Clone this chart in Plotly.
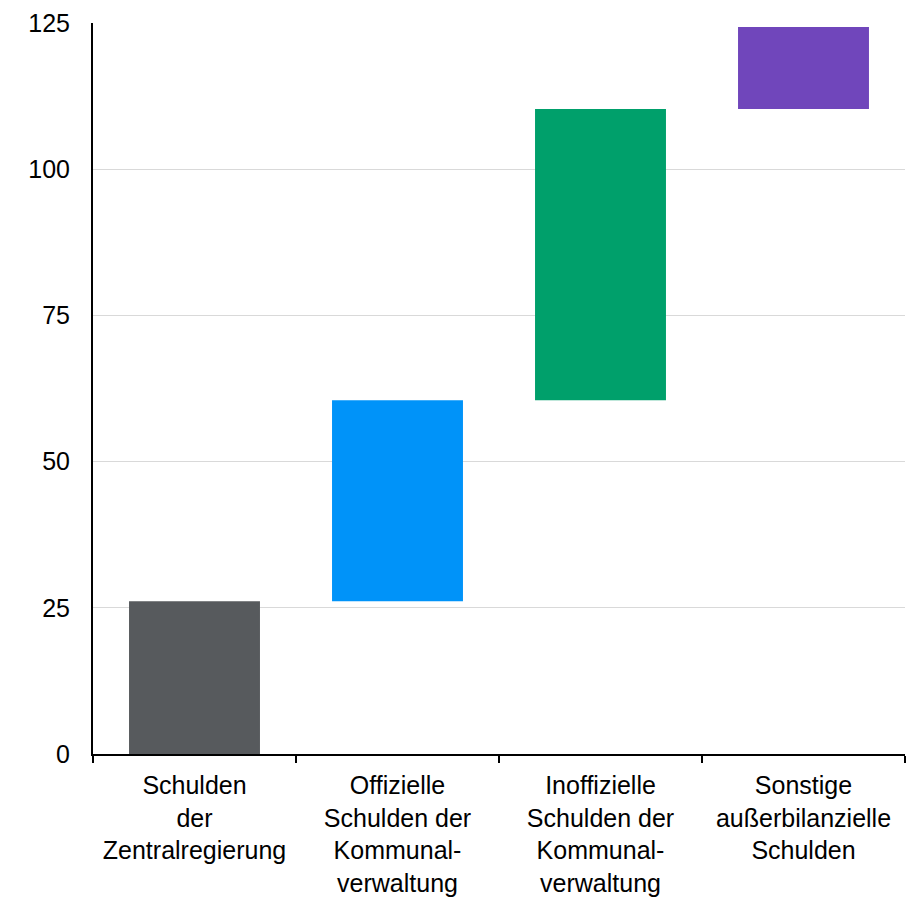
import plotly.graph_objects as go
import numpy as np

categories = ["Schulden<br>der<br>Zentralregierung",
              "Offizielle<br>Schulden der<br>Kommunal-<br>verwaltung",
              "Inoffizielle<br>Schulden der<br>Kommunal-<br>verwaltung",
              "Sonstige<br>außerbilanzielle<br>Schulden"]
increments = [26.1, 34.4, 49.8, 14.0]
colors = ["#575A5D", "#0093F9", "#00A06B", "#7046BB"]

bases = list(np.concatenate([[0], np.cumsum(increments)[:-1]]))

fig = go.Figure(go.Bar(x=categories, y=increments, base=bases,
                       marker=dict(color=colors, line=dict(width=0)),
                       hoverinfo="skip"))

fig.update_layout(
    width=920, height=897,
    margin=dict(l=85, r=23, t=15, b=151, autoexpand=False),
    plot_bgcolor="white", paper_bgcolor="white",
    font=dict(family="Liberation Sans, Arial", size=26, color="black"),
    bargap=0.355,
    showlegend=False,
)
fig.update_xaxes(showline=True, linecolor="black", linewidth=2,
                 ticks="outside", ticklen=7, tickwidth=2, tickcolor="black",
                 tickson="boundaries", showgrid=False, ticklabelstandoff=8,
                 ticklabeloverflow="allow",
                 tickfont=dict(size=25))
fig.update_yaxes(range=[0, 125], tickvals=[0, 25, 50, 75, 100, 125],
                 showline=True, linecolor="black", linewidth=2,
                 showgrid=True, gridcolor="#D9D9D9", gridwidth=1,
                 ticks="", ticklabelstandoff=16, zeroline=False,
                 ticklabeloverflow="allow",
                 tickfont=dict(size=25))

fig.write_html("out.html")
